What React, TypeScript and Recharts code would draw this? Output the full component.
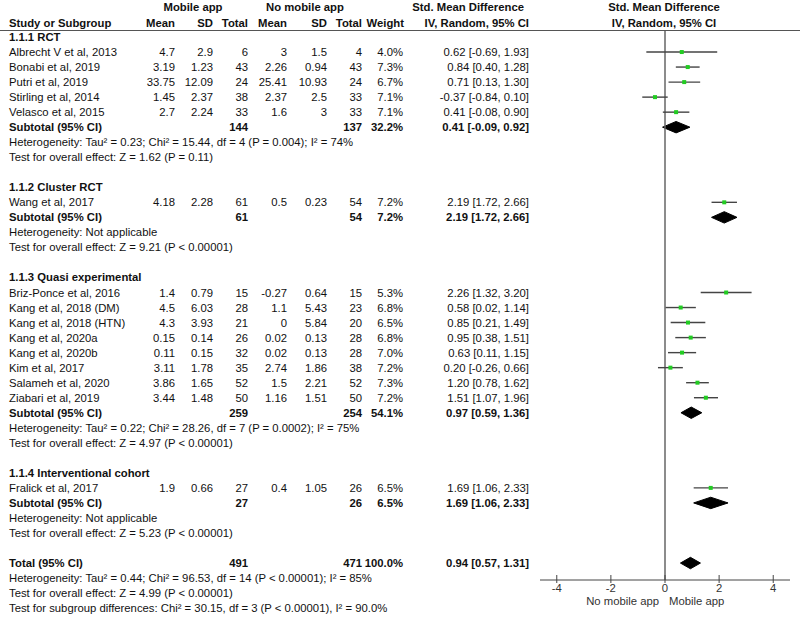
import React from "react";
import { ComposedChart, XAxis, YAxis, Scatter, Area, ErrorBar, ReferenceLine } from "recharts";

const FONT = '"Liberation Sans", Arial, sans-serif';
const FS = 11.3;

const groupLabels = ["1.1.1 RCT", "1.1.2 Cluster RCT", "1.1.3 Quasi experimental", "1.1.4 Interventional cohort"];

const studyNames = [
  "Albrecht V et al, 2013",
  "Bonabi et al, 2019",
  "Putri et al, 2019",
  "Stirling et al, 2014",
  "Velasco et al, 2015",
  "Wang et al, 2017",
  "Briz-Ponce et al, 2016",
  "Kang et al, 2018 (DM)",
  "Kang et al, 2018 (HTN)",
  "Kang et al, 2020a",
  "Kang et al, 2020b",
  "Kim et al, 2017",
  "Salameh et al, 2020",
  "Ziabari et al, 2019",
  "Fralick et al, 2017",
];
const studyGroup = [0, 0, 0, 0, 0, 1, 2, 2, 2, 2, 2, 2, 2, 2, 3];
const appMean = [4.7, 3.19, 33.75, 1.45, 2.7, 4.18, 1.4, 4.5, 4.3, 0.15, 0.11, 3.11, 3.86, 3.44, 1.9];
const appSd = [2.9, 1.23, 12.09, 2.37, 2.24, 2.28, 0.79, 6.03, 3.93, 0.14, 0.15, 1.78, 1.65, 1.48, 0.66];
const appN = [6, 43, 24, 38, 33, 61, 15, 28, 21, 26, 32, 35, 52, 50, 27];
const noAppMean = [3, 2.26, 25.41, 2.37, 1.6, 0.5, -0.27, 1.1, 0, 0.02, 0.02, 2.74, 1.5, 1.16, 0.4];
const noAppSd = [1.5, 0.94, 10.93, 2.5, 3, 0.23, 0.64, 5.43, 5.84, 0.13, 0.13, 1.86, 2.21, 1.51, 1.05];
const noAppN = [4, 43, 24, 33, 33, 54, 15, 23, 20, 28, 28, 38, 52, 50, 26];
const studyWeight = [4.0, 7.3, 6.7, 7.1, 7.1, 7.2, 5.3, 6.8, 6.5, 6.8, 7.0, 7.2, 7.3, 7.2, 6.5];
const studySmd = [0.62, 0.84, 0.71, -0.37, 0.41, 2.19, 2.26, 0.58, 0.85, 0.95, 0.63, 0.2, 1.2, 1.51, 1.69];
const studyLow = [-0.69, 0.4, 0.13, -0.84, -0.08, 1.72, 1.32, 0.02, 0.21, 0.38, 0.11, -0.26, 0.78, 1.07, 1.06];
const studyHigh = [1.93, 1.28, 1.3, 0.1, 0.9, 2.66, 3.2, 1.14, 1.49, 1.51, 1.15, 0.66, 1.62, 1.96, 2.33];

const subAppN = [144, 61, 259, 27];
const subNoAppN = [137, 54, 254, 26];
const subWeight = [32.2, 7.2, 54.1, 6.5];
const subSmd = [0.41, 2.19, 0.97, 1.69];
const subLow = [-0.09, 1.72, 0.59, 1.06];
const subHigh = [0.92, 2.66, 1.36, 2.33];
const subHeterogeneity = [
  "Heterogeneity: Tau² = 0.23; Chi² = 15.44, df = 4 (P = 0.004); I² = 74%",
  "Heterogeneity: Not applicable",
  "Heterogeneity: Tau² = 0.22; Chi² = 28.26, df = 7 (P = 0.0002); I² = 75%",
  "Heterogeneity: Not applicable",
];
const subOverall = [
  "Test for overall effect: Z = 1.62 (P = 0.11)",
  "Test for overall effect: Z = 9.21 (P < 0.00001)",
  "Test for overall effect: Z = 4.97 (P < 0.00001)",
  "Test for overall effect: Z = 5.23 (P < 0.00001)",
];

const totalAppN = 491;
const totalNoAppN = 471;
const totalWeight = 100.0;
const totalSmd = 0.94;
const totalLow = 0.57;
const totalHigh = 1.31;
const totalNotes = [
  "Heterogeneity: Tau² = 0.44; Chi² = 96.53, df = 14 (P < 0.00001); I² = 85%",
  "Test for overall effect: Z = 4.99 (P < 0.00001)",
  "Test for subgroup differences: Chi² = 30.15, df = 3 (P < 0.00001), I² = 90.0%",
];

const xTicks = [-4, -2, 0, 2, 4];
const favourLabels = ["No mobile app", "Mobile app"];

// layout
const W = 800;
const H = 617;
const TOP = 31;
const AXIS_Y = 580;
const ROW0 = 37;
const ROW_PX = 15.03;
const Y_MIN = -(ROW0 - TOP) / ROW_PX;
const Y_MAX = (AXIS_Y - ROW0) / ROW_PX;
const X_MAX = 4.62;
const DIAMOND_H = 0.38;
const NAME_X = 9;
// right edges: mean, sd, total, mean, sd, total, weight, smd
const COLS = [175, 213, 248, 287, 327, 362, 403, 529];

const fmtCi = (m: number, lo: number, hi: number) => `${m.toFixed(2)} [${lo.toFixed(2)}, ${hi.toFixed(2)}]`;

type TextRow = { x: number; row: number; label?: string; values?: string[]; bold?: boolean; lines?: string[] };

const tableRows: TextRow[] = [];
const studyPoints: { x: number; row: number; err: number[] }[] = [];
const diamonds: { x: number; band: number[] }[][] = [];

const addDiamond = (r: number, m: number, lo: number, hi: number) => {
  diamonds.push([
    { x: lo, band: [r, r] },
    { x: m, band: [r - DIAMOND_H, r + DIAMOND_H] },
    { x: hi, band: [r, r] },
  ]);
};

let r = 0;
groupLabels.forEach((g, gi) => {
  tableRows.push({ x: 0, row: r, label: g, bold: true });
  r++;
  studyNames.forEach((name, i) => {
    if (studyGroup[i] !== gi) return;
    tableRows.push({
      x: 0,
      row: r,
      label: name,
      values: [
        String(appMean[i]),
        String(appSd[i]),
        String(appN[i]),
        String(noAppMean[i]),
        String(noAppSd[i]),
        String(noAppN[i]),
        studyWeight[i].toFixed(1) + "%",
        fmtCi(studySmd[i], studyLow[i], studyHigh[i]),
      ],
    });
    studyPoints.push({ x: studySmd[i], row: r, err: [studySmd[i] - studyLow[i], studyHigh[i] - studySmd[i]] });
    r++;
  });
  tableRows.push({
    x: 0,
    row: r,
    label: "Subtotal (95% CI)",
    bold: true,
    values: ["", "", String(subAppN[gi]), "", "", String(subNoAppN[gi]), subWeight[gi].toFixed(1) + "%", fmtCi(subSmd[gi], subLow[gi], subHigh[gi])],
  });
  addDiamond(r, subSmd[gi], subLow[gi], subHigh[gi]);
  r++;
  tableRows.push({ x: 0, row: r, lines: [subHeterogeneity[gi], subOverall[gi]] });
  r += 3;
});
tableRows.push({
  x: 0,
  row: r,
  label: "Total (95% CI)",
  bold: true,
  values: ["", "", String(totalAppN), "", "", String(totalNoAppN), totalWeight.toFixed(1) + "%", fmtCi(totalSmd, totalLow, totalHigh)],
});
addDiamond(r, totalSmd, totalLow, totalHigh);
tableRows.push({ x: 0, row: r + 1, lines: totalNotes });

const TEXT_FILL = "#111";

function TableRowShape(props: any) {
  const p: TextRow = props.payload ?? props;
  const cy: number = props.cy;
  if (p.lines) {
    return (
      <g>
        {p.lines.map((t, k) => (
          <text key={k} x={NAME_X} y={cy + 4 + k * ROW_PX} fontSize={FS} fontFamily={FONT} fill={TEXT_FILL}>
            {t}
          </text>
        ))}
      </g>
    );
  }
  return (
    <g fontSize={FS} fontFamily={FONT} fill={TEXT_FILL} fontWeight={p.bold ? "bold" : "normal"}>
      <text x={NAME_X} y={cy + 4}>{p.label}</text>
      {(p.values ?? []).map((v, k) =>
        v ? (
          <text key={k} x={COLS[k]} y={cy + 4} textAnchor="end">
            {v}
          </text>
        ) : null
      )}
    </g>
  );
}

function StudyMarker(props: any) {
  return <rect x={props.cx - 2} y={props.cy - 2} width={4} height={4} fill="#22cc22" />;
}

function AxisTick(props: any) {
  const { x, y, payload } = props;
  return (
    <g>
      <line x1={x} x2={x} y1={y - 5} y2={y + 3} stroke="#444" />
      <text x={x} y={y + 12} textAnchor="middle" fontSize={FS} fontFamily={FONT} fill="#333">
        {payload.value}
      </text>
    </g>
  );
}

function Header() {
  const b = { fontSize: FS, fontFamily: FONT, fontWeight: "bold" as const, fill: TEXT_FILL };
  const sub = ["Mean", "SD", "Total", "Mean", "SD", "Total", "Weight", "IV, Random, 95% CI"];
  return (
    <svg width={W} height={H} style={{ position: "absolute", left: 0, top: 0, pointerEvents: "none" }}>
      <text {...b} x={193} y={11} textAnchor="middle">Mobile app</text>
      <text {...b} x={305} y={11} textAnchor="middle">No mobile app</text>
      <text {...b} x={524} y={11} textAnchor="end">Std. Mean Difference</text>
      <text {...b} x={664} y={11} textAnchor="middle">Std. Mean Difference</text>
      <text {...b} x={NAME_X} y={27}>Study or Subgroup</text>
      {sub.map((s, k) => (
        <text key={k} {...b} x={COLS[k] + (k === 6 ? 1 : 0)} y={27} textAnchor="end">
          {s}
        </text>
      ))}
      <text {...b} x={664} y={27} textAnchor="middle">IV, Random, 95% CI</text>
      <line x1={0} x2={W} y1={TOP - 0.5} y2={TOP - 0.5} stroke="#555" />
      <text x={659} y={605} textAnchor="end" fontSize={FS} fontFamily={FONT} fill="#333">
        {favourLabels[0]}
      </text>
      <text x={669} y={605} fontSize={FS} fontFamily={FONT} fill="#333">
        {favourLabels[1]}
      </text>
    </svg>
  );
}

export default function App() {
  return (
    <div style={{ position: "absolute", left: 0, top: 0, width: W, height: H, background: "#fff" }}>
      <ComposedChart width={W} height={H} margin={{ top: TOP, right: 10, bottom: H - AXIS_Y - 30, left: 540 }}>
        <XAxis
          type="number"
          dataKey="x"
          domain={[-X_MAX, X_MAX]}
          ticks={xTicks}
          height={30}
          tickSize={0}
          tickMargin={0}
          tickLine={false}
          tick={<AxisTick />}
          axisLine={{ stroke: "#444" }}
        />
        <YAxis type="number" dataKey="row" domain={[Y_MIN, Y_MAX]} reversed hide width={0} />
        <ReferenceLine x={0} stroke="#666" strokeWidth={1.5} />
        <Scatter data={tableRows} shape={<TableRowShape />} isAnimationActive={false} />
        {diamonds.map((d, k) => (
          <Area
            key={k}
            data={d}
            dataKey="band"
            type="linear"
            stroke="#000"
            strokeWidth={1}
            fill="#000"
            fillOpacity={1}
            dot={false}
            activeDot={false}
            isAnimationActive={false}
          />
        ))}
        <Scatter data={studyPoints} shape={<StudyMarker />} isAnimationActive={false}>
          <ErrorBar dataKey="err" direction="x" width={0} stroke="#444" strokeWidth={1.4} isAnimationActive={false} />
        </Scatter>
      </ComposedChart>
      <Header />
    </div>
  );
}
